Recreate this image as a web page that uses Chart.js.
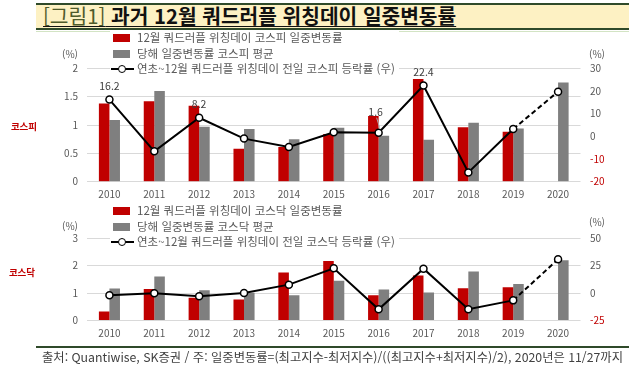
<!DOCTYPE html>
<html lang="ko">
<head>
<meta charset="utf-8">
<script src="https://cdn.jsdelivr.net/npm/chart.js@4.4.1/dist/chart.umd.min.js"></script>
<style>
  body {
    margin: 0;
    width: 640px;
    height: 367px;
    background: #fff;
    position: relative;
    overflow: hidden;
    font-family: "Noto Sans CJK KR", "Noto Sans", sans-serif;
  }
  .title-bar {
    position: absolute;
    left: 36px;
    top: 3px;
    width: 593px;
    height: 23px;
    background: #fdf1c3;
    border-top: 2px solid #2f4a2a;
    border-bottom: 2px solid #2f4a2a;
  }
  .title {
    position: absolute;
    left: 43px;
    top: 2px;
    font-size: 20.3px;
    line-height: 26px;
    text-decoration: underline;
    text-decoration-thickness: 1px;
    text-underline-offset: 2px;
    white-space: nowrap;
    color: #111;
  }
  .title .fig { font-weight: 400; color: #4f5a2a; }
  .title .main { font-weight: 700; }
  .thin-line { position: absolute; left: 36px; top: 31px; width: 593px; height: 1px; background: #d3e4c4; }
  .foot-line { position: absolute; left: 36px; top: 346px; width: 593px; height: 2px; background: #2f4a2a; }
  .source {
    position: absolute;
    left: 42px;
    top: 349px;
    font-size: 12.3px;
    line-height: 16px;
    color: #404040;
    white-space: nowrap;
  }
  canvas { position: absolute; left: 0; }
  .unit { position: absolute; font-size: 10px; color: #595959; transform: translate(-50%, -50%); }
  .side { position: absolute; font-size: 9.5px; font-weight: 700; color: #c00000; transform: translate(-50%, -50%); }
  .legend { position: absolute; left: 110px; background: #fff; padding-right: 4px; }
  .legend-item { position: relative; height: 15.5px; font-size: 11.5px; line-height: 15.5px; color: #595959; padding-left: 27px; white-space: nowrap; }
  .legend-item .box { position: absolute; left: 3px; top: 4px; width: 17px; height: 8px; }
  .legend-item .ln { position: absolute; left: 1px; top: 7px; width: 23px; height: 2px; background: #000; }
  .legend-item .dot { position: absolute; left: 8px; top: 3.5px; width: 6px; height: 6px; border: 1.5px solid #000; border-radius: 50%; background: #fff; }
</style>
</head>
<body>
<div class="title-bar"></div>
<div class="title"><span class="fig">[그림1]</span> <span class="main">과거 12월 쿼드러플 위칭데이 일중변동률</span></div>
<div class="thin-line"></div>

<canvas id="kospiChart" style="top:30px" width="640" height="172"></canvas>
<canvas id="kosdaqChart" style="top:200px" width="640" height="145"></canvas>

<div class="unit" style="left:70px; top:53px">(%)</div>
<div class="unit" style="left:597px; top:53px">(%)</div>
<div class="unit" style="left:70px; top:225px">(%)</div>
<div class="unit" style="left:597px; top:221px">(%)</div>
<div class="side" style="left:24px; top:126px">코스피</div>
<div class="side" style="left:22px; top:272px">코스닥</div>

<div class="legend" id="kospiLegend" style="top:30px"></div>
<div class="legend" id="kosdaqLegend" style="top:203px"></div>

<div class="foot-line"></div>
<div class="source">출처: Quantiwise, SK증권 / 주: 일중변동률=(최고지수-최저지수)/((최고지수+최저지수)/2), 2020년은 11/27까지</div>

<script>
const years = ["2010", "2011", "2012", "2013", "2014", "2015", "2016", "2017", "2018", "2019", "2020"];

// 코스피
const kospiDayRange = [1.38, 1.42, 1.34, 0.58, 0.61, 0.84, 1.16, 1.81, 0.96, 0.88, null];
const kospiAvgRange = [1.09, 1.6, 0.97, 0.93, 0.75, 0.95, 0.81, 0.74, 1.04, 0.94, 1.75];
const kospiPrevChange = [16.2, -6.6, 8.2, -1.0, -4.7, 1.8, 1.6, 22.4, -15.9, 3.2, 19.7];
const kospiLabeledYears = ["2010", "2012", "2016", "2017"];
const kospiLeftTicks = { min: 0, max: 2, step: 0.5 };
const kospiRightTicks = { min: -20, max: 30, step: 10 };

// 코스닥
const kosdaqDayRange = [0.33, 1.15, 0.83, 0.76, 1.75, 2.16, 0.92, 1.64, 1.17, 1.21, null];
const kosdaqAvgRange = [1.16, 1.6, 1.1, 1.01, 0.92, 1.45, 1.13, 1.02, 1.78, 1.33, 2.19];
const kosdaqPrevChange = [-2.1, -0.3, -3.0, 0.0, 7.6, 22.4, -14.8, 22.1, -14.8, -6.7, 30.6];
const kosdaqLeftTicks = { min: 0, max: 3, step: 1 };
const kosdaqRightTicks = { min: -25, max: 50, step: 25 };

const RED = "#c00000";
const GRAY = "#7f7f7f";
const TEXT = "#595959";
const GRID = "#d9d9d9";
const FONT = "'Noto Sans CJK KR', 'Noto Sans', sans-serif";

// value labels above selected line points
const pointLabels = {
  id: "pointLabels",
  afterDatasetsDraw(chart, args, opts) {
    if (!opts.years || !opts.years.length) return;
    const meta = chart.getDatasetMeta(opts.datasetIndex);
    const ds = chart.data.datasets[opts.datasetIndex];
    const ctx = chart.ctx;
    ctx.save();
    ctx.font = "10.5px " + FONT;
    ctx.fillStyle = "#404040";
    ctx.textAlign = "center";
    ctx.textBaseline = "middle";
    opts.years.forEach((yr) => {
      const i = chart.data.labels.indexOf(yr);
      const pt = meta.data[i];
      const lift = (opts.lift && opts.lift[yr]) || 14;
      ctx.fillText(ds.data[i].toFixed(1), pt.x - (lift > 14 ? 3 : 0), pt.y - lift);
      if (lift > 14) {
        ctx.strokeStyle = "#aaaaaa";
        ctx.lineWidth = 1;
        ctx.beginPath();
        ctx.moveTo(pt.x - 2, pt.y - lift + 6);
        ctx.lineTo(pt.x + 1, pt.y - 5);
        ctx.stroke();
      }
    });
    ctx.restore();
  },
};

function makeChart(canvasId, dayRange, avgRange, prevChange, labels, left, right, layout) {
  const canvas = document.getElementById(canvasId);
  return new Chart(canvas, {
    data: {
      labels: years,
      datasets: [
        {
          type: "line",
          label: labels[2],
          data: prevChange,
          yAxisID: "y1",
          order: 0,
          borderColor: "#000",
          borderWidth: 2,
          pointRadius: 3.5,
          pointBorderWidth: 1.5,
          pointBackgroundColor: "#fff",
          pointBorderColor: "#000",
          tension: 0,
          segment: {
            borderDash: (c) => (c.p1DataIndex === years.length - 1 ? [5, 3] : undefined),
          },
        },
        {
          type: "bar",
          label: labels[0],
          data: dayRange,
          yAxisID: "y",
          order: 1,
          backgroundColor: RED,
          categoryPercentage: 0.47,
          barPercentage: 1,
        },
        {
          type: "bar",
          label: labels[1],
          data: avgRange,
          yAxisID: "y",
          order: 1,
          backgroundColor: GRAY,
          categoryPercentage: 0.47,
          barPercentage: 1,
        },
      ],
    },
    options: {
      responsive: false,
      animation: false,
      events: [],
      layout: { padding: { top: layout.top, left: 47, right: 14.5, bottom: 0 } },
      plugins: {
        legend: { display: false },
        tooltip: { enabled: false },
        pointLabels: layout.pointLabels || {},
      },
      scales: {
        x: {
          grid: { display: false, drawTicks: false },
          border: { display: false },
          ticks: { color: TEXT, font: { size: 10, family: FONT }, padding: 6.5, maxRotation: 0 },
          afterFit: (s) => { s.height = layout.xHeight; },
        },
        y: {
          position: "left",
          min: left.min,
          max: left.max,
          grid: { color: GRID, lineWidth: 1, drawTicks: false },
          border: { display: false },
          ticks: {
            stepSize: left.step,
            color: TEXT,
            font: { size: 10, family: FONT },
            padding: 9,
            callback: (v) => String(v),
          },
          afterFit: (s) => { s.width = 40; },
        },
        y1: {
          position: "right",
          min: right.min,
          max: right.max,
          grid: { display: false, drawTicks: false },
          border: { display: false },
          ticks: {
            stepSize: right.step,
            color: (c) => (c.tick.value < 0 ? RED : TEXT),
            font: { size: 10, family: FONT },
            padding: 9.5,
            callback: (v) => String(v),
          },
          afterFit: (s) => { s.width = 45; },
        },
      },
    },
    plugins: [pointLabels],
  });
}

function buildLegend(el, chart) {
  const ds = chart.data.datasets;
  [ds[1], ds[2], ds[0]].forEach((d) => {
    const item = document.createElement("div");
    item.className = "legend-item";
    if (d.type === "bar") {
      const box = document.createElement("span");
      box.className = "box";
      box.style.background = d.backgroundColor;
      item.appendChild(box);
    } else {
      const ln = document.createElement("span");
      ln.className = "ln";
      const dot = document.createElement("span");
      dot.className = "dot";
      item.append(ln, dot);
    }
    item.appendChild(document.createTextNode(d.label));
    el.appendChild(item);
  });
}

const kospiChart = makeChart(
  "kospiChart",
  kospiDayRange,
  kospiAvgRange,
  kospiPrevChange,
  ["12월 쿼드러플 위칭데이 코스피 일중변동률", "당해 일중변동률 코스피 평균", "연초~12월 쿼드러플 위칭데이 전일 코스피 등락률 (우)"],
  kospiLeftTicks,
  kospiRightTicks,
  {
    top: 38.3,
    xHeight: 20.3,
    pointLabels: { datasetIndex: 0, years: kospiLabeledYears, lift: { "2016": 21 } },
  }
);

const kosdaqChart = makeChart(
  "kosdaqChart",
  kosdaqDayRange,
  kosdaqAvgRange,
  kosdaqPrevChange,
  ["12월 쿼드러플 위칭데이 코스닥 일중변동률", "당해 일중변동률 코스닥 평균", "연초~12월 쿼드러플 위칭데이 전일 코스닥 등락률 (우)"],
  kosdaqLeftTicks,
  kosdaqRightTicks,
  { top: 38, xHeight: 24.5 }
);

buildLegend(document.getElementById("kospiLegend"), kospiChart);
buildLegend(document.getElementById("kosdaqLegend"), kosdaqChart);
</script>
</body>
</html>
